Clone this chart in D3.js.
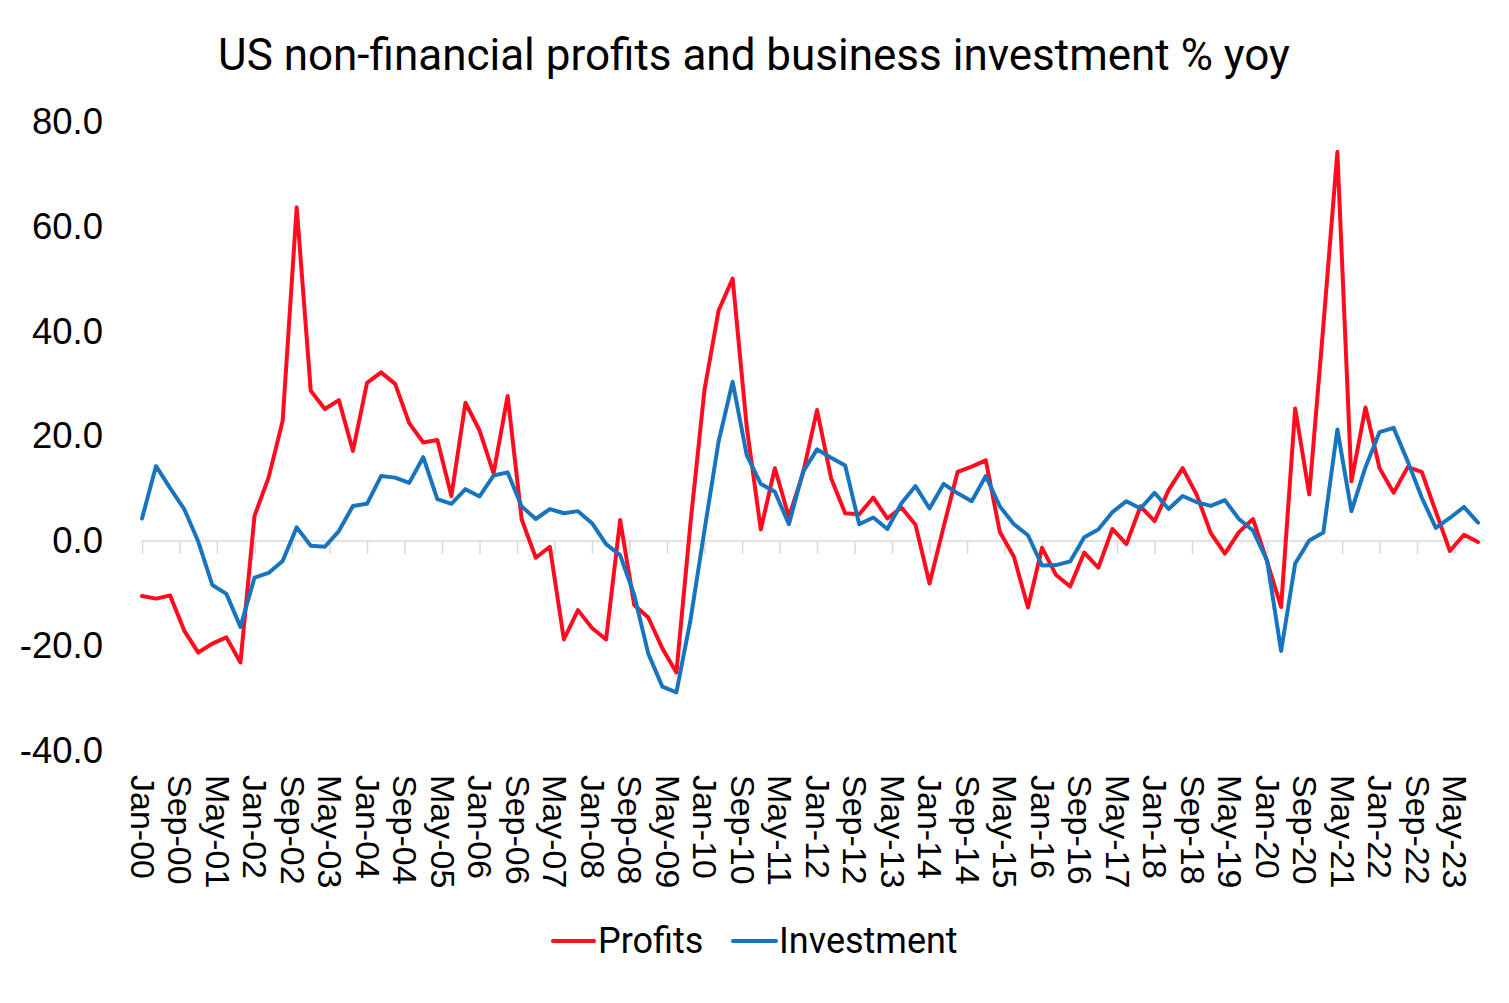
<!DOCTYPE html>
<html><head><meta charset="utf-8">
<script src="https://cdn.jsdelivr.net/npm/d3@7"></script>
<style>body{margin:0;background:#fff}</style>
</head><body><svg id="c" width="1509" height="1003"></svg>
<script>
// Quarterly data, Q1 2000 .. Q4 2023 (month index from Jan-00)
const firstYear = 2000, nQuarters = 96;
const monthIdx = d3.range(nQuarters).map(i => i * 3);

const profits = [
 -10.5,-11.0,-10.4,-17.1,-21.3,-19.6,-18.4,-23.2,4.8,12.1,22.9,63.7,28.7,25.2,26.9,17.2,
 30.2,32.2,30.0,22.5,18.8,19.3,8.6,26.4,21.1,12.9,27.7,4.1,-3.2,-1.1,-18.8,-13.2,-16.6,
 -18.8,4.0,-12.2,-14.6,-20.5,-25.1,3.4,28.9,44.0,50.1,21.8,2.2,13.9,4.6,12.9,25.0,12.0,
 5.3,5.1,8.3,4.3,6.4,3.1,-8.1,2.7,13.2,14.2,15.4,1.7,-3.0,-12.7,-1.3,-6.5,
 -8.7,-2.2,-5.1,2.3,-0.6,6.6,3.8,9.7,13.9,8.8,1.5,-2.4,1.7,4.2,
 -3.9,-12.6,25.3,8.9,41.0,74.3,11.4,25.5,13.9,9.2,14.1,13.2,5.6,-1.9,1.2,-0.2
];
const investment = [
 4.3,14.3,10.1,6.1,-0.1,-8.4,-10.1,-16.4,-7.0,-6.1,-3.8,2.6,-0.9,-1.1,1.9,6.7,
 7.1,12.4,12.1,11.1,16.0,8.0,7.1,9.9,8.5,12.5,13.1,6.6,4.2,6.1,5.3,5.7,3.4,
 -0.6,-2.7,-10.3,-21.5,-27.8,-28.9,-15.1,2.1,19.0,30.4,16.4,10.9,9.4,3.2,13.2,17.5,15.9,
 14.4,3.2,4.5,2.3,7.2,10.5,6.2,10.9,9.1,7.6,12.4,6.6,3.2,1.1,-4.7,-4.6,
 -3.9,0.7,2.2,5.5,7.6,6.2,9.2,6.1,8.6,7.4,6.7,7.8,4.2,2.0,
 -3.7,-21.0,-4.3,0.1,1.6,21.3,5.7,14.1,20.8,21.6,15.2,8.3,2.5,4.4,6.5,3.5
];
const yTicks = [-40,-20,0,20,40,60,80];
const xTickLabels = ["Jan-00","Sep-00","May-01","Jan-02","Sep-02","May-03","Jan-04","Sep-04","May-05",
 "Jan-06","Sep-06","May-07","Jan-08","Sep-08","May-09","Jan-10","Sep-10","May-11","Jan-12","Sep-12",
 "May-13","Jan-14","Sep-14","May-15","Jan-16","Sep-16","May-17","Jan-18","Sep-18","May-19","Jan-20",
 "Sep-20","May-21","Jan-22","Sep-22","May-23"];
const xTickMonths = xTickLabels.map((d, i) => i * 8);
const seriesNames = ["Profits", "Investment"];
const colors = ["#FF0D1E", "#1874BE"];

const svg = d3.select("#c");
const x = d3.scaleLinear().domain([0, 285]).range([142, 1478]);
const y = d3.scaleLinear().domain([-40, 80]).range([750.5, 122]);

// Title
svg.append("text").attr("x", 754).attr("y", 55)
  .attr("text-anchor", "middle").attr("dominant-baseline", "central")
  .style("font-family", "Roboto, 'Open Sans', sans-serif").style("font-size", "44px").style("fill", "#000")
  .text("US non-financial profits and business investment % yoy");

// Y axis (labels only)
const yAxis = d3.axisLeft(y).tickValues(yTicks).tickFormat(d => d.toFixed(1)).tickSize(0).tickPadding(0);
const gy = svg.append("g").attr("transform", "translate(103,0)").call(yAxis);
gy.select(".domain").remove();
gy.selectAll("text").style("font-family", "'Liberation Sans', Arial, sans-serif").style("font-size", "36.5px").style("fill", "#000");

// X axis at zero
const xAxis = d3.axisBottom(x).tickValues(xTickMonths).tickFormat((d, i) => xTickLabels[i]).tickSize(13).tickSizeOuter(0);
const gx = svg.append("g").attr("transform", `translate(0,${y(0)})`).call(xAxis);
gx.select(".domain").attr("stroke", "#D9D9D9").attr("stroke-width", 1.5).attr("d", `M${x(0)},0H${x(286)}`);
gx.selectAll(".tick line").attr("stroke", "#D9D9D9").attr("stroke-width", 1.5);
gx.selectAll(".tick text")
  .attr("transform", `translate(0,${775 - y(0)}) rotate(90)`)
  .attr("x", 0).attr("y", 0).attr("dy", null)
  .attr("text-anchor", "start").attr("dominant-baseline", "central")
  .style("font-family", "'Liberation Sans', Arial, sans-serif").style("font-size", "34px").style("fill", "#000");

// Lines
const line = d3.line().x((d, i) => x(monthIdx[i])).y(d => y(d));
[profits, investment].forEach((s, k) => {
  svg.append("path").datum(s).attr("d", line)
    .attr("fill", "none").attr("stroke", colors[k]).attr("stroke-width", 4)
    .attr("stroke-linejoin", "round").attr("stroke-linecap", "round");
});

// Legend
const leg = [{x1: 553, x2: 594, tx: 598}, {x1: 733, x2: 776, tx: 779}];
leg.forEach((L, k) => {
  svg.append("line").attr("x1", L.x1).attr("x2", L.x2).attr("y1", 941).attr("y2", 941)
    .attr("stroke", colors[k]).attr("stroke-width", 4).attr("stroke-linecap", "round");
  svg.append("text").attr("x", L.tx).attr("y", 941).attr("dominant-baseline", "central")
    .style("font-family", "Roboto, 'Open Sans', sans-serif").style("font-size", "36px").style("fill", "#000")
    .text(seriesNames[k]);
});
</script></body></html>
